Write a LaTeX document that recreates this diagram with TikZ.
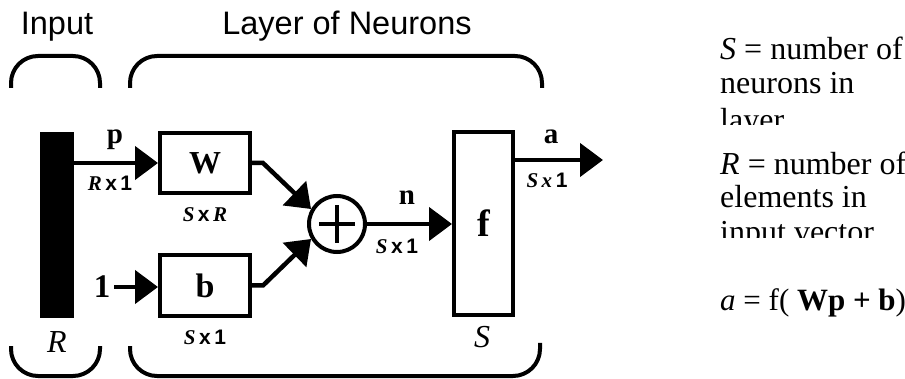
\documentclass[tikz,border=0pt]{standalone}
\usepackage{fontspec}
\setmainfont{Liberation Serif}
\setsansfont{Liberation Sans}
\usetikzlibrary{arrows.meta}
\tikzset{
  box/.style={draw, line width=4pt, inner sep=0pt, fill=white},
  conn/.style={line width=4.5pt, -{Triangle[length=23pt,width=33pt]}},
  bracket/.style={line width=4pt, rounded corners=27pt},
  hdr/.style={font=\sffamily\fontsize{32.5}{38}\selectfont, inner sep=0pt, anchor=base},
  boldlab/.style={font=\bfseries\fontsize{#1}{#1}\selectfont, inner sep=0pt},
  dimlab/.style={font=\bfseries\fontsize{21}{23}\selectfont, inner sep=0pt},
  ital/.style={font=\itshape\fontsize{32}{34}\selectfont, inner sep=0pt},
  note/.style={font=\fontsize{32}{36}\selectfont, inner sep=0pt, anchor=base west},
}
\newcommand{\dimtxt}[2]{\textit{#1}\,{\sffamily x}\,{\sffamily #2}}
\begin{document}
\begin{tikzpicture}[x=1pt,y=-1pt]
\useasboundingbox (0,0) rectangle (905,379);
% headers
\node[hdr] (hin) at (57,35) {Input};
\node[hdr] (hlay) at (347,35) {Layer of Neurons};
% brackets
\draw[bracket] (11,88) -- (11,56) -- (100,56) -- (100,88);
\draw[bracket] (130,88) -- (130,56) -- (542,56) -- (542,88);
\draw[bracket] (11,346) -- (11,376) -- (100,376) -- (100,346);
\draw[bracket] (130,346) -- (130,376) -- (540,376) -- (540,343);
% input bar
\node[fill=black, inner sep=0pt, minimum width=34pt, minimum height=186pt] (bar) at (57,225) {};
\node[ital] (R) at (57,342) {R};
% boxes
\node[box, minimum width=90pt, minimum height=60pt] (W) at (205,163) {};
\node[boldlab=32] at (W) {W};
\node[box, minimum width=90pt, minimum height=61pt] (b) at (205,285.5) {};
\node[boldlab=34] at (b) {b};
\node[box, minimum width=59pt, minimum height=183pt] (f) at (483.5,223.5) {};
\node[boldlab=38] at (f) {f};
\node[draw, circle, line width=4pt, minimum size=56pt, inner sep=0pt] (sum) at (337,224) {};
\draw[line width=4.5pt] ([xshift=-18pt]sum.center) -- ([xshift=18pt]sum.center);
\draw[line width=4.5pt] ([yshift=-19pt]sum.center) -- ([yshift=19pt]sum.center);
% labels
\node[boldlab=29] (p) at (115,140) {p};
\node[dimlab] (Rx1) at (110,183) {\dimtxt{R}{1}};
\node[dimlab] (SxR) at (205,215) {\textit{S}\,{\sffamily x}\,\textit{R}};
\node[font=\bfseries\fontsize{33}{35}\selectfont, inner sep=0pt] (one) at (102,287) {1};
\node[dimlab] (Sx1b) at (205,337) {\dimtxt{S}{1}};
\node[boldlab=29] (n) at (407,198) {n};
\node[dimlab] (Sx1n) at (397,246) {\dimtxt{S}{1}};
\node[ital] (S) at (482,337) {S};
\node[boldlab=29] (a) at (551,137) {a};
\node[dimlab] (Sx1a) at (547,180) {\textit{S\,x}\,{\sffamily 1}};
% connectors
\coordinate (aend) at (603,160);
\draw[conn] (bar.east |- W.west) -- (W.west);
\draw[conn] ([xshift=4pt]one.east) -- (one.east -| b.west);
\draw[conn] (W.east) -- ++(11,0) -- (sum.150);
\draw[conn] (b.east) -- ++(11,0) -- (sum.210);
\draw[conn] (sum.east) -- (sum.east -| f.west);
\draw[conn] (f.east |- aend) -- (aend);
% notes
\begin{scope}
\clip (700,20) rectangle (905,125);
\node[note] (n1) at (720,60) {\textit{S} = number of};
\node[note] (n2) at (720,94) {neurons in};
\node[note] (n3) at (720,131) {layer};
\end{scope}
\begin{scope}
\clip (700,140) rectangle (905,238);
\node[note] (n4) at (720,175) {\textit{R} = number of};
\node[note] (n5) at (720,208) {elements in};
\node[note] (n6) at (720,243) {input vector};
\end{scope}
\node[note, font=\fontsize{31}{35}\selectfont] (eq) at (720,311) {\textit{a} = f( \textbf{Wp + b})};
\end{tikzpicture}
\end{document}
